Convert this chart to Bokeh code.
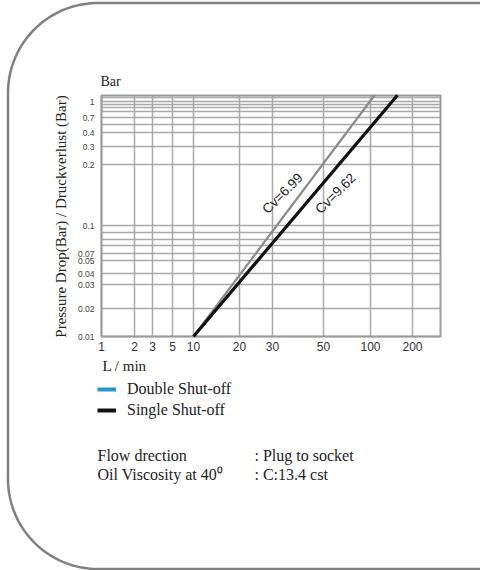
import numpy as np
from bokeh.plotting import figure
from bokeh.models import Range1d, FixedTicker, Label, Legend, LegendItem, LinearAxis
from bokeh.embed import file_html
from bokeh.resources import INLINE

# ---------------- data ----------------
x_tick_values = [1, 2, 3, 5, 10, 20, 30, 50, 100, 200]
x_tick_labels = ["1", "2", "3", "5", "10", "20", "30", "50", "100", "200"]
y_tick_values = [0.01, 0.02, 0.03, 0.04, 0.05, 0.07, 0.1, 0.2, 0.3, 0.4, 0.7, 1]
y_tick_labels = ["0.01", "0.02", "0.03", "0.04", "0.05", "0.07", "0.1", "0.2", "0.3", "0.4", "0.7", "1"]

flow_double = [10, 107]      # L/min
dp_double = [0.01, 1.15]     # bar   (Cv=6.99)
flow_single = [10, 156]
dp_single = [0.01, 1.15]     # (Cv=9.62)

series_names = ["Double Shut-off", "Single Shut-off"]
cv_labels = ["Cv=6.99", "Cv=9.62"]
notes_left = ["Flow drection", "Oil Viscosity at 40\u2070"]
notes_right = [": Plug to socket", ": C:13.4 cst"]

# ---------------- axis layout (the chart's own distorted log grid) ----------------
x_tick_pos = [0, 33, 51, 71, 92, 138, 171, 222, 269, 311]
y_tick_pos = [0, 28, 52, 63, 76, 83, 111, 172, 190, 204, 219, 235]
y_minor_pos = [91, 97, 104, 212, 225, 229, 232, 239]
X_END, Y_END = 339, 241


def log_interp(v, vals, pos):
    lv = np.log10(np.asarray(v, float))
    lvals = np.log10(np.asarray(vals, float))
    pos = np.asarray(pos, float)
    out = np.interp(lv, lvals, pos)
    hi = lv > lvals[-1]
    s_hi = (pos[-1] - pos[-2]) / (lvals[-1] - lvals[-2])
    out[hi] = pos[-1] + (lv[hi] - lvals[-1]) * s_hi
    lo = lv < lvals[0]
    s_lo = (pos[1] - pos[0]) / (lvals[1] - lvals[0])
    out[lo] = pos[0] + (lv[lo] - lvals[0]) * s_lo
    return out


def fx(v):
    return log_interp(v, x_tick_values, x_tick_pos)


def fy(v):
    return log_interp(v, y_tick_values, y_tick_pos)


SERIF = "Liberation Serif"
SANS = "Liberation Sans"
W, H = 480, 570
OX, OY = 101, 336   # chart origin inside the page

p = figure(width=W, height=H, x_range=Range1d(-OX, W - OX), y_range=Range1d(OY - H, OY),
           output_backend="svg", toolbar_location=None,
           x_axis_location=None, y_axis_location=None)
p.min_border = 0
p.outline_line_color = None
p.background_fill_color = "white"
p.border_fill_color = "white"
p.grid.visible = False

xt = fx(x_tick_values)
yt = fy(y_tick_values)

# grid (drawn only inside the chart box)
GRID = "#a9a9a9"
p.segment(x0=xt, y0=0, x1=xt, y1=Y_END, line_color=GRID, line_width=1.5)
ygrid = np.concatenate([yt, y_minor_pos])
p.segment(x0=0, y0=ygrid, x1=X_END, y1=ygrid, line_color=GRID, line_width=1.5)
p.quad(left=0, right=X_END, bottom=0, top=Y_END, fill_alpha=0,
       line_color="#9a9a9a", line_width=2)

# axes fixed at the chart edges
xax = LinearAxis(fixed_location=0, ticker=FixedTicker(ticks=list(xt)))
xax.major_label_overrides = {float(t): l for t, l in zip(xt, x_tick_labels)}
yax = LinearAxis(fixed_location=0, ticker=FixedTicker(ticks=list(yt)))
yax.major_label_overrides = {float(t): l for t, l in zip(yt, y_tick_labels)}
for ax in (xax, yax):
    ax.axis_line_color = None
    ax.major_tick_line_color = None
    ax.minor_tick_line_color = None
    ax.major_tick_out = 0
    ax.major_tick_in = 0
    ax.minor_tick_out = 0
    ax.minor_tick_in = 0
    ax.major_label_text_font = SANS
xax.major_label_text_font_size = "12px"
xax.major_label_text_color = "#333333"
xax.major_label_standoff = 5
yax.major_label_text_font_size = "8.5px"
yax.major_label_text_color = "#444444"
yax.major_label_standoff = 7
p.add_layout(xax, "below")
p.add_layout(yax, "left")

# curves
p.line(fx(flow_double), fy(dp_double), line_color="#8a8a8a", line_width=2.2)
p.line(fx(flow_single), fy(dp_single), line_color="#111111", line_width=3.2)

# Cv labels
for xx, s in ((181, cv_labels[0]), (234, cv_labels[1])):
    p.add_layout(Label(x=xx, y=143, text=s, angle=45, angle_units="deg",
                       text_align="center", text_baseline="middle", text_font=SANS,
                       text_font_size="13.5px", text_color="#222222"))

# legend (swatch colours as printed in the reference)
r_d = p.line(fx(flow_double), fy(dp_double), line_color="#2a95cc", line_width=4, visible=False)
r_s = p.line(fx(flow_single), fy(dp_single), line_color="#111111", line_width=4, visible=False)
legend = Legend(items=[LegendItem(label=series_names[0], renderers=[r_d]),
                       LegendItem(label=series_names[1], renderers=[r_s])],
                location=(97, H - 420), label_text_font=SERIF, label_text_font_size="16px",
                label_text_color="#222222", glyph_width=19, glyph_height=20, label_height=20,
                label_standoff=11, spacing=1, padding=0, margin=0,
                inactive_fill_alpha=0, border_line_alpha=0, background_fill_alpha=0)
p.add_layout(legend)


def txt(x, y, s, size="15px", **kw):
    p.add_layout(Label(x=x, y=y, text=s, text_font=SERIF, text_font_size=size,
                       text_color="#222222", **kw))


txt(-1, 248, "Bar", "14px")
txt(1, -37, "L / min", "15px")
txt(-41, 120, "Pressure Drop(Bar) / Druckverlust (Bar)", "15px", angle=90, angle_units="deg",
    text_align="center", text_baseline="middle")
txt(-4, -127, notes_left[0], "16px")
txt(-4, -146, notes_left[1], "16px")
txt(153, -127, notes_right[0], "16px")
txt(153, -146, notes_right[1], "16px")

# rounded panel border (decoration; page px -> data units)
R = 90.0
L, T, B, RR = 7.5, 2.5, 568.5, 500.0
a1 = np.linspace(np.pi / 2, np.pi, 40)
a2 = np.linspace(np.pi, 1.5 * np.pi, 40)
bx = np.concatenate([[RR], L + R + R * np.cos(a1), L + R + R * np.cos(a2), [RR]])
by = np.concatenate([[T], T + R - R * np.sin(a1), B - R - R * np.sin(a2), [B]])
p.line(bx - OX, OY - by, line_color="#808080", line_width=2.5)

open("out.html", "w").write(file_html(p, INLINE))
